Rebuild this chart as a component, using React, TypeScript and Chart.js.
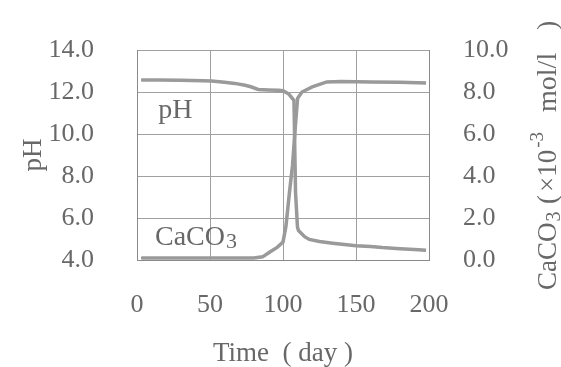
import React, { useEffect, useRef } from "react";
import { Chart, registerables } from "chart.js";

Chart.register(...registerables);

// ---- data ----
const xTicks = [0, 50, 100, 150, 200];
const phTicks = [4, 6, 8, 10, 12, 14];
const cacoTicks = [0, 2, 4, 6, 8, 10];

const phDays = [3, 15, 30, 45, 51, 60, 67, 74, 78, 83, 90, 97, 100, 104, 107.5, 108.2, 108.6, 109.9, 110.6, 115, 118, 125, 134, 142, 150, 160, 168, 180, 190, 198];
const phValues = [12.57, 12.57, 12.56, 12.54, 12.52, 12.46, 12.41, 12.32, 12.25, 12.12, 12.1, 12.08, 12.06, 11.9, 11.6, 8.8, 7.2, 5.57, 5.4, 5.1, 4.98, 4.88, 4.8, 4.74, 4.68, 4.64, 4.59, 4.54, 4.5, 4.46];

const cacoDays = [3, 20, 40, 60, 80, 86, 91, 96, 100, 102, 104.4, 106.5, 108.5, 110, 113, 120, 130, 140, 160, 180, 198];
const cacoValues = [0.1, 0.1, 0.1, 0.1, 0.1, 0.15, 0.38, 0.6, 0.85, 1.6, 3.2, 4.5, 6.4, 7.7, 8.0, 8.24, 8.48, 8.5, 8.48, 8.47, 8.43];

// inner label anchors (data coordinates)
const phLabelPos = { x: 14.5, y: 10.76 };
const cacoLabelPos = { x: 12.3, y: 4.71 };

const TEXT = "#686868";
const SERIF = "'Liberation Serif', 'DejaVu Serif', serif";

// right axis title pieces: text, font size, baseline offset, gap before
const rightTitle: [string, number, number, number][] = [
  ["CaCO", 27, 9, 0],
  ["3", 20, 13, 1],
  ["(", 27, 9, 7.5],
  ["\u00d7", 27, 9, 3],
  ["10", 27, 9, 0],
  ["-3", 19, -4, 2],
  ["mol/l", 28, 9, 20],
  [")", 27, 9, 23],
];

const labelsPlugin = {
  id: "labels",
  afterDraw(chart: any) {
    const { ctx, scales } = chart;
    const xs = scales.x;
    const ys = scales.y;
    ctx.save();
    ctx.fillStyle = TEXT;
    ctx.textAlign = "left";
    ctx.textBaseline = "alphabetic";
    ctx.font = `28px ${SERIF}`;
    ctx.fillText("pH", xs.getPixelForValue(phLabelPos.x), ys.getPixelForValue(phLabelPos.y));
    const cx = xs.getPixelForValue(cacoLabelPos.x);
    const cy = ys.getPixelForValue(cacoLabelPos.y);
    ctx.font = `28px ${SERIF}`;
    ctx.fillText("CaCO", cx, cy);
    const w = ctx.measureText("CaCO").width;
    ctx.font = `22px ${SERIF}`;
    ctx.fillText("3", cx + w + 1, cy + 3);

    ctx.translate(547, 290);
    ctx.rotate(-Math.PI / 2);
    let pos = 0;
    for (const [t, size, base, gap] of rightTitle) {
      pos += gap;
      ctx.font = `${size}px ${SERIF}`;
      ctx.fillText(t, pos, base);
      pos += ctx.measureText(t).width;
    }
    ctx.restore();
  },
};

const fitVertical = (width: number) => (s: any) => {
  s.width = width;
  s.paddingTop = 0;
  s.paddingBottom = 0;
};

export default function App() {
  const ref = useRef<HTMLCanvasElement | null>(null);
  useEffect(() => {
    if (!ref.current) return;
    const phData = phDays.map((d, i) => ({ x: d, y: phValues[i] }));
    const cacoData = cacoDays.map((d, i) => ({ x: d, y: cacoValues[i] }));
    const base = { pointRadius: 0, tension: 0, fill: false };
    const chart = new Chart(ref.current, {
      type: "line",
      data: {
        datasets: [
          { ...base, data: phData, yAxisID: "y", borderColor: "#9a9a9a", borderWidth: 3.5 },
          { ...base, data: phData, yAxisID: "y", borderColor: "#555555", borderWidth: 2, borderDash: [1.5, 1.5] },
          { ...base, data: cacoData, yAxisID: "y2", borderColor: "#9a9a9a", borderWidth: 3.5 },
          { ...base, data: cacoData, yAxisID: "y2", borderColor: "#555555", borderWidth: 2, borderDash: [1.5, 1.5] },
        ],
      },
      options: {
        responsive: false,
        animation: false,
        devicePixelRatio: 1,
        layout: { padding: { top: 50, left: 0, right: 0, bottom: 0 } },
        plugins: { legend: { display: false }, tooltip: { enabled: false } },
        scales: {
          x: {
            type: "linear",
            min: 0,
            max: 200,
            afterBuildTicks: (s: any) => { s.ticks = xTicks.map((v) => ({ value: v })); },
            afterFit: (s: any) => { s.height = 107; s.paddingLeft = 0; s.paddingRight = 0; },
            grid: { color: "#a0a0a0", lineWidth: 1, drawTicks: false },
            border: { color: "#8a8a8a", width: 1 },
            ticks: { color: TEXT, font: { family: SERIF, size: 26 }, padding: 30 },
            title: { display: true, text: "Time  ( day )", color: TEXT, font: { family: SERIF, size: 27, lineHeight: 1 }, padding: { top: 0, bottom: 0 } },
          },
          y: {
            type: "linear",
            position: "left",
            min: 4,
            max: 14,
            afterBuildTicks: (s: any) => { s.ticks = phTicks.map((v) => ({ value: v })); },
            afterFit: fitVertical(137),
            grid: { color: "#a0a0a0", lineWidth: 1, drawTicks: false },
            border: { color: "#8a8a8a", width: 1 },
            ticks: { color: TEXT, font: { family: SERIF, size: 26 }, padding: 43, callback: (v: any) => Number(v).toFixed(1) },
            title: { display: true, text: "pH", color: TEXT, font: { family: SERIF, size: 27 }, padding: { top: 18, bottom: 0 } },
          },
          y2: {
            type: "linear",
            position: "right",
            min: 0,
            max: 10,
            afterBuildTicks: (s: any) => { s.ticks = cacoTicks.map((v) => ({ value: v })); },
            afterFit: fitVertical(132),
            grid: { drawOnChartArea: false, drawTicks: false },
            border: { color: "#8a8a8a", width: 1 },
            ticks: { color: TEXT, font: { family: SERIF, size: 26 }, padding: 34, callback: (v: any) => Number(v).toFixed(1) },
          },
        },
      },
      plugins: [labelsPlugin],
    } as any);
    return () => chart.destroy();
  }, []);
  return (
    <div style={{ position: "fixed", left: 0, top: 0, width: 561, height: 367, background: "#fff" }}>
      <canvas ref={ref} width={561} height={367} style={{ display: "block", width: 561, height: 367 }} />
    </div>
  );
}
